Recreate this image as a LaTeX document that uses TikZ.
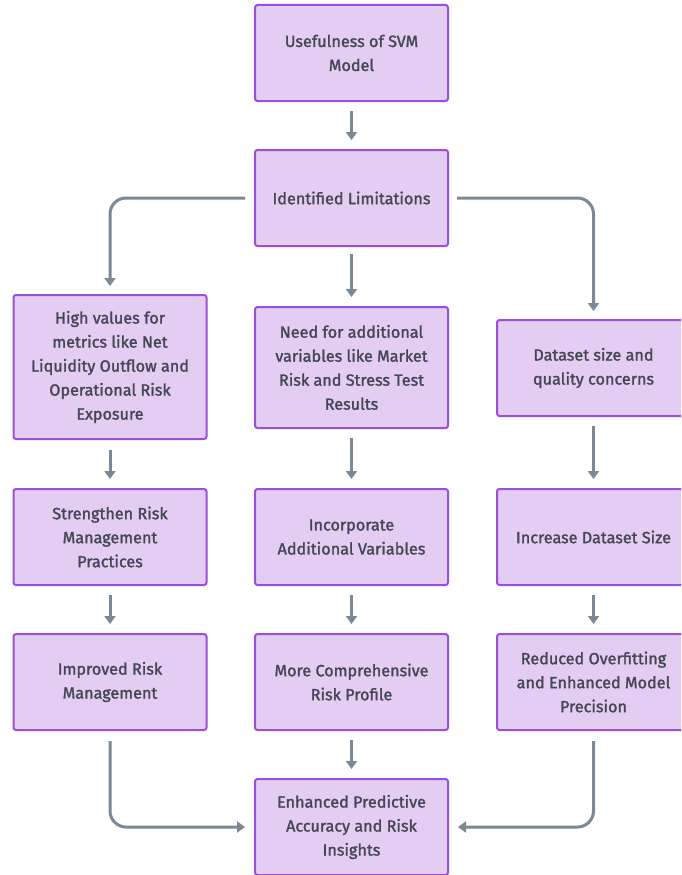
\documentclass[tikz,border=0pt]{standalone}
\usepackage{fontspec}
\setmainfont{Fira Sans}[FakeBold=1.6]
\usetikzlibrary{arrows.meta}
\definecolor{boxfill}{HTML}{E3CDF3}
\definecolor{boxline}{HTML}{9B4FD9}
\definecolor{txt}{HTML}{434853}
\definecolor{arrcol}{HTML}{7B8895}
\tikzset{
  box/.style={draw=boxline, line width=2pt, fill=boxfill, rounded corners=2.5pt,
    minimum width=193pt, minimum height=96pt, align=center, text=txt,
    font=\fontsize{16.2}{24}\selectfont, inner sep=0pt},
  arr/.style={draw=arrcol, line width=3pt, rounded corners=16pt,
    -{Triangle[width=11pt,length=8pt]}}
}
\begin{document}
\begin{tikzpicture}[x=1pt,y=-1pt]
\clip (0,0) rectangle (681,875);
\fill[white] (0,0) rectangle (681,875);
\node[box] (use) at (351.5,53) {Usefulness of SVM\\Model};
\node[box] (ident) at (351.5,198) {Identified Limitations};
\node[box, minimum height=144pt] (hv) at (110,367) {High values for\\metrics like Net\\Liquidity Outflow and\\Operational Risk\\Exposure};
\node[box, minimum height=121pt] (need) at (351.5,367.5) {Need for additional\\variables like Market\\Risk and Stress Test\\Results};
\node[box] (ds) at (593.5,368) {Dataset size and\\quality concerns};
\node[box] (str) at (110,537) {Strengthen Risk\\Management\\Practices};
\node[box] (inc) at (351.5,537) {Incorporate\\Additional Variables};
\node[box] (ids) at (593.5,537) {Increase Dataset Size};
\node[box] (irm) at (110,682) {Improved Risk\\Management};
\node[box] (mcr) at (351.5,682) {More Comprehensive\\Risk Profile};
\node[box] (red) at (593.5,682) {Reduced Overfitting\\and Enhanced Model\\Precision};
\node[box] (out) at (351.5,827) {Enhanced Predictive\\Accuracy and Risk\\Insights};

\draw[arr] ([yshift=-9pt]use.south) -- ([yshift=9pt]ident.north);
\draw[arr] ([xshift=-9pt]ident.west) -| ([yshift=8pt]hv.north);
\draw[arr] ([yshift=-7pt]ident.south) -- ([yshift=9pt]need.north);
\draw[arr] ([xshift=8pt]ident.east) -| ([yshift=8pt]ds.north);
\draw[arr] ([yshift=-10pt]hv.south) -- ([yshift=9pt]str.north);
\draw[arr] ([yshift=-9pt]need.south) -- ([yshift=9pt]inc.north);
\draw[arr] ([yshift=-9pt]ds.south) -- ([yshift=9pt]ids.north);
\draw[arr] ([yshift=-9pt]str.south) -- ([yshift=9pt]irm.north);
\draw[arr] ([yshift=-9pt]inc.south) -- ([yshift=9pt]mcr.north);
\draw[arr] ([yshift=-9pt]ids.south) -- ([yshift=9pt]red.north);
\draw[arr] ([yshift=-9pt]mcr.south) -- ([yshift=9pt]out.north);
\draw[arr] ([yshift=-10pt]irm.south) |- ([xshift=-9pt]out.west);
\draw[arr] ([yshift=-10pt]red.south) |- ([xshift=9pt]out.east);
\end{tikzpicture}
\end{document}
